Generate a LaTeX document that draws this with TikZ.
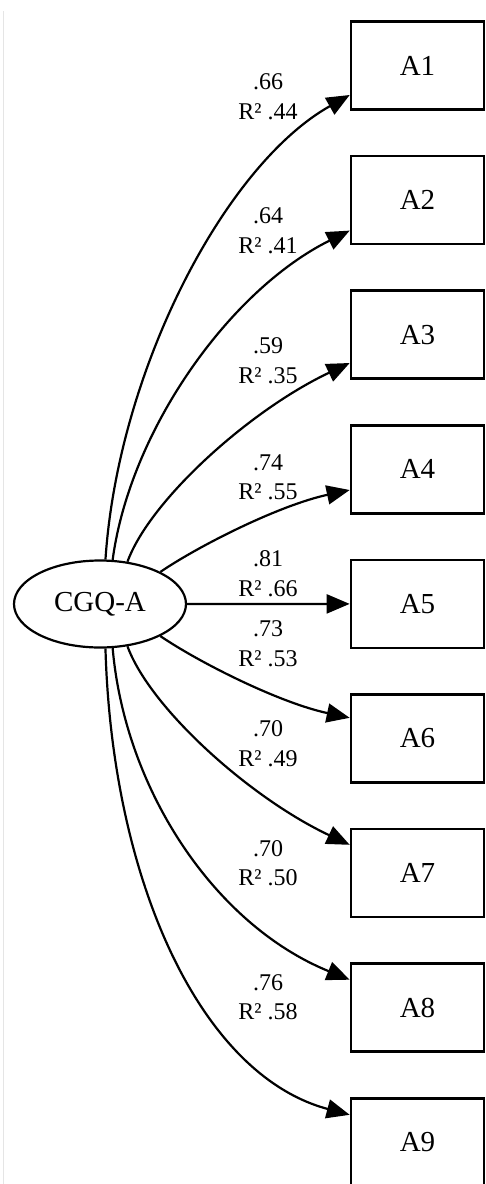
\documentclass[tikz,border=0pt]{standalone}
\usepackage{fontspec}
\setmainfont{Liberation Serif}
\usetikzlibrary{arrows.meta,shapes.geometric}
\begin{document}
\begin{tikzpicture}[x=1pt,y=-1pt,
  box/.style={draw, line width=2.6pt, minimum width=133pt, minimum height=88pt, inner sep=0pt, font=\fontsize{29}{34}\selectfont},
  lat/.style={draw, ellipse, line width=2.2pt, minimum width=172pt, minimum height=87pt, inner sep=0pt, font=\fontsize{29}{34}\selectfont},
  edge/.style={line width=2.2pt, -{Triangle[length=23pt,width=19pt]}},
  lab/.style={align=center, font=\fontsize{24}{29.5}\selectfont, inner sep=0pt}]
\useasboundingbox (0,0) rectangle (486,1184);
\draw[black!10, line width=0.6pt] (3.5,11) -- (3.5,1184);
\node[lat] (c) at (100,604) {CGQ-A};
\foreach \i in {1,...,9}
  \node[box] (A\i) at (417.5,{65.5+134.6*(\i-1)}) {A\i};
% edges
\draw[edge] (c.83.6) .. controls (118,370) and (225,165) .. ([yshift=-29.5pt]A1.west);
\draw[edge] (c.74.8) .. controls (130,430) and (230,290) .. ([yshift=-30.5pt]A2.west);
\draw[edge] (c.57.5) .. controls (150,500) and (250,410) .. ([yshift=-28.3pt]A3.west);
\draw[edge] (c.28.2) .. controls (200,545) and (280,505) .. ([yshift=-20.7pt]A4.west);
\draw[edge] (c.east) -- (A5.west);
\draw[edge] (c.-28.2) .. controls (200,663) and (280,703) .. ([yshift=20.7pt]A6.west);
\draw[edge] (c.-57.5) .. controls (150,708) and (250,798) .. ([yshift=28.3pt]A7.west);
\draw[edge] (c.-74.8) .. controls (125,790) and (215,925) .. ([yshift=28pt]A8.west);
\draw[edge] (c.-83.6) .. controls (112,880) and (200,1075) .. ([yshift=27.5pt]A9.west);
% labels
\node[lab] (l1) at (268,96.5) {.66\\R² .44};
\node[lab] (l2) at (268,230.5) {.64\\R² .41};
\node[lab] (l3) at (268,360.5) {.59\\R² .35};
\node[lab] (l4) at (268,477.5) {.74\\R² .55};
\node[lab] (l5) at (268,573.5) {.81\\R² .66};
\node[lab] (l6) at (268,643.5) {.73\\R² .53};
\node[lab] (l7) at (268,743.5) {.70\\R² .49};
\node[lab] (l8) at (268,863) {.70\\R² .50};
\node[lab] (l9) at (268,997) {.76\\R² .58};
\end{tikzpicture}
\end{document}
